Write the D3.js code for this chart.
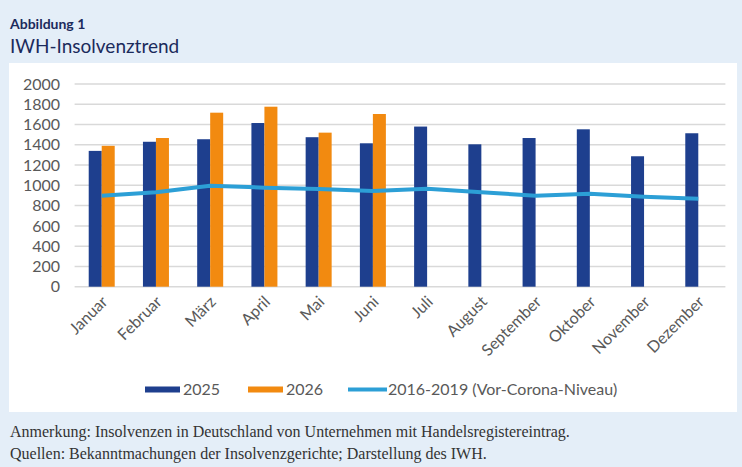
<!DOCTYPE html>
<html lang="de">
<head>
  <meta charset="UTF-8">
  <title>IWH-Insolvenztrend</title>
  <script src="https://cdn.jsdelivr.net/npm/d3@7"></script>
  <style>
    body { margin: 0; background: #e4eef8; }
    svg { display: block; }
  </style>
</head>
<body>
  <div id="chart"></div>

  <script>
    const months = ['Januar', 'Februar', 'März', 'April', 'Mai', 'Juni', 'Juli',
      'August', 'September', 'Oktober', 'November', 'Dezember'];
    const values2025 = [1340, 1430, 1455, 1615, 1475, 1415, 1580, 1405, 1467, 1553, 1287, 1514];
    const values2026 = [1390, 1467, 1717, 1776, 1520, 1704];
    const preCorona = [898, 931, 997, 977, 964, 944, 967, 931, 898, 918, 888, 868];
    const yTicks = [0, 200, 400, 600, 800, 1000, 1200, 1400, 1600, 1800, 2000];

    const width = 742,
      height = 467;

    const c2025 = '#1e3f8e',
      c2026 = '#f28a10',
      cLine = '#2c9fd6',
      navy = '#1b2a5c';

    const svg = d3.select('#chart')
      .append('svg')
        .attr('width', width)
        .attr('height', height);

    // white panel
    svg.append('rect')
      .attr('x', 9).attr('y', 63)
      .attr('width', 728).attr('height', 349)
      .attr('fill', '#fff');

    // titles
    svg.append('text')
      .attr('x', 10).attr('y', 29)
      .attr('font-family', 'Lato')
      .attr('font-weight', 'bold')
      .attr('font-size', 14)
      .attr('fill', navy)
      .text('Abbildung 1');

    svg.append('text')
      .attr('x', 10).attr('y', 53)
      .attr('font-family', 'Lato')
      .attr('font-size', 19)
      .attr('fill', navy)
      .text('IWH-Insolvenztrend');

    const x = d3.scaleBand()
      .domain(months)
      .range([74.6, 725.4]);

    const xSub = d3.scaleBand()
      .domain(['2025', '2026'])
      .range([0, 26]);

    const y = d3.scaleLinear()
      .domain([0, 2000])
      .range([286.7, 84]);

    const plot = svg.append('g');

    // gridlines
    plot.selectAll('line.grid')
      .data(yTicks)
      .join('line')
        .attr('class', 'grid')
        .attr('x1', 74.6).attr('x2', 725.4)
        .attr('y1', d => y(d)).attr('y2', d => y(d))
        .attr('stroke', '#d9d9d9')
        .attr('stroke-width', 1.5);

    // y axis labels
    const yAxis = d3.axisLeft(y).tickValues(yTicks).tickFormat(d3.format('d')).tickSize(0).tickPadding(0);
    const yg = svg.append('g')
      .attr('transform', 'translate(60,0)')
      .call(yAxis);
    yg.select('.domain').remove();
    yg.selectAll('text')
      .attr('font-family', 'Lato')
      .attr('font-size', 16)
      .attr('fill', '#595959');

    // bars
    const barCenter = m => x(m) + x.bandwidth() / 2 - 13;

    plot.selectAll('rect.b2025')
      .data(values2025)
      .join('rect')
        .attr('class', 'b2025')
        .attr('x', (d, i) => barCenter(months[i]) + xSub('2025'))
        .attr('y', d => y(d))
        .attr('width', xSub.bandwidth())
        .attr('height', d => y(0) - y(d))
        .attr('fill', c2025);

    plot.selectAll('rect.b2026')
      .data(values2026)
      .join('rect')
        .attr('class', 'b2026')
        .attr('x', (d, i) => barCenter(months[i]) + xSub('2026'))
        .attr('y', d => y(d))
        .attr('width', xSub.bandwidth())
        .attr('height', d => y(0) - y(d))
        .attr('fill', c2026);

    // pre-corona line
    const line = d3.line()
      .x((d, i) => x(months[i]) + x.bandwidth() / 2)
      .y(d => y(d));

    plot.append('path')
      .datum(preCorona)
      .attr('d', line)
      .attr('fill', 'none')
      .attr('stroke', cLine)
      .attr('stroke-width', 4)
      .attr('stroke-linejoin', 'round');

    // x labels
    const xAxis = d3.axisBottom(x).tickSize(0).tickPadding(0);
    const xg = svg.append('g')
      .attr('transform', 'translate(0,296)')
      .call(xAxis);
    xg.select('.domain').remove();
    xg.selectAll('text')
      .attr('font-family', 'Lato')
      .attr('font-size', 16)
      .attr('fill', '#595959')
      .attr('text-anchor', 'end')
      .attr('dy', '0.6em')
      .attr('transform', 'rotate(-45)');

    // legend
    const legend = svg.append('g').attr('font-family', 'Lato').attr('font-size', 16).attr('fill', '#595959');
    legend.append('rect').attr('x', 145).attr('y', 386.5).attr('width', 35).attr('height', 6).attr('fill', c2025);
    legend.append('text').attr('x', 183).attr('y', 395).text('2025');
    legend.append('rect').attr('x', 248).attr('y', 386.5).attr('width', 35).attr('height', 6).attr('fill', c2026);
    legend.append('text').attr('x', 286).attr('y', 395).text('2026');
    legend.append('line').attr('x1', 348).attr('x2', 387).attr('y1', 389.5).attr('y2', 389.5)
      .attr('stroke', cLine).attr('stroke-width', 4);
    legend.append('text').attr('x', 388).attr('y', 395).text('2016-2019 (Vor-Corona-Niveau)');

    // notes
    const notes = svg.append('g')
      .attr('font-family', 'Liberation Serif')
      .attr('font-size', 16)
      .attr('fill', '#333');
    notes.append('text').attr('x', 10).attr('y', 437)
      .text('Anmerkung: Insolvenzen in Deutschland von Unternehmen mit Handelsregistereintrag.');
    notes.append('text').attr('x', 10).attr('y', 459)
      .text('Quellen: Bekanntmachungen der Insolvenzgerichte; Darstellung des IWH.');
  </script>
</body>
</html>
